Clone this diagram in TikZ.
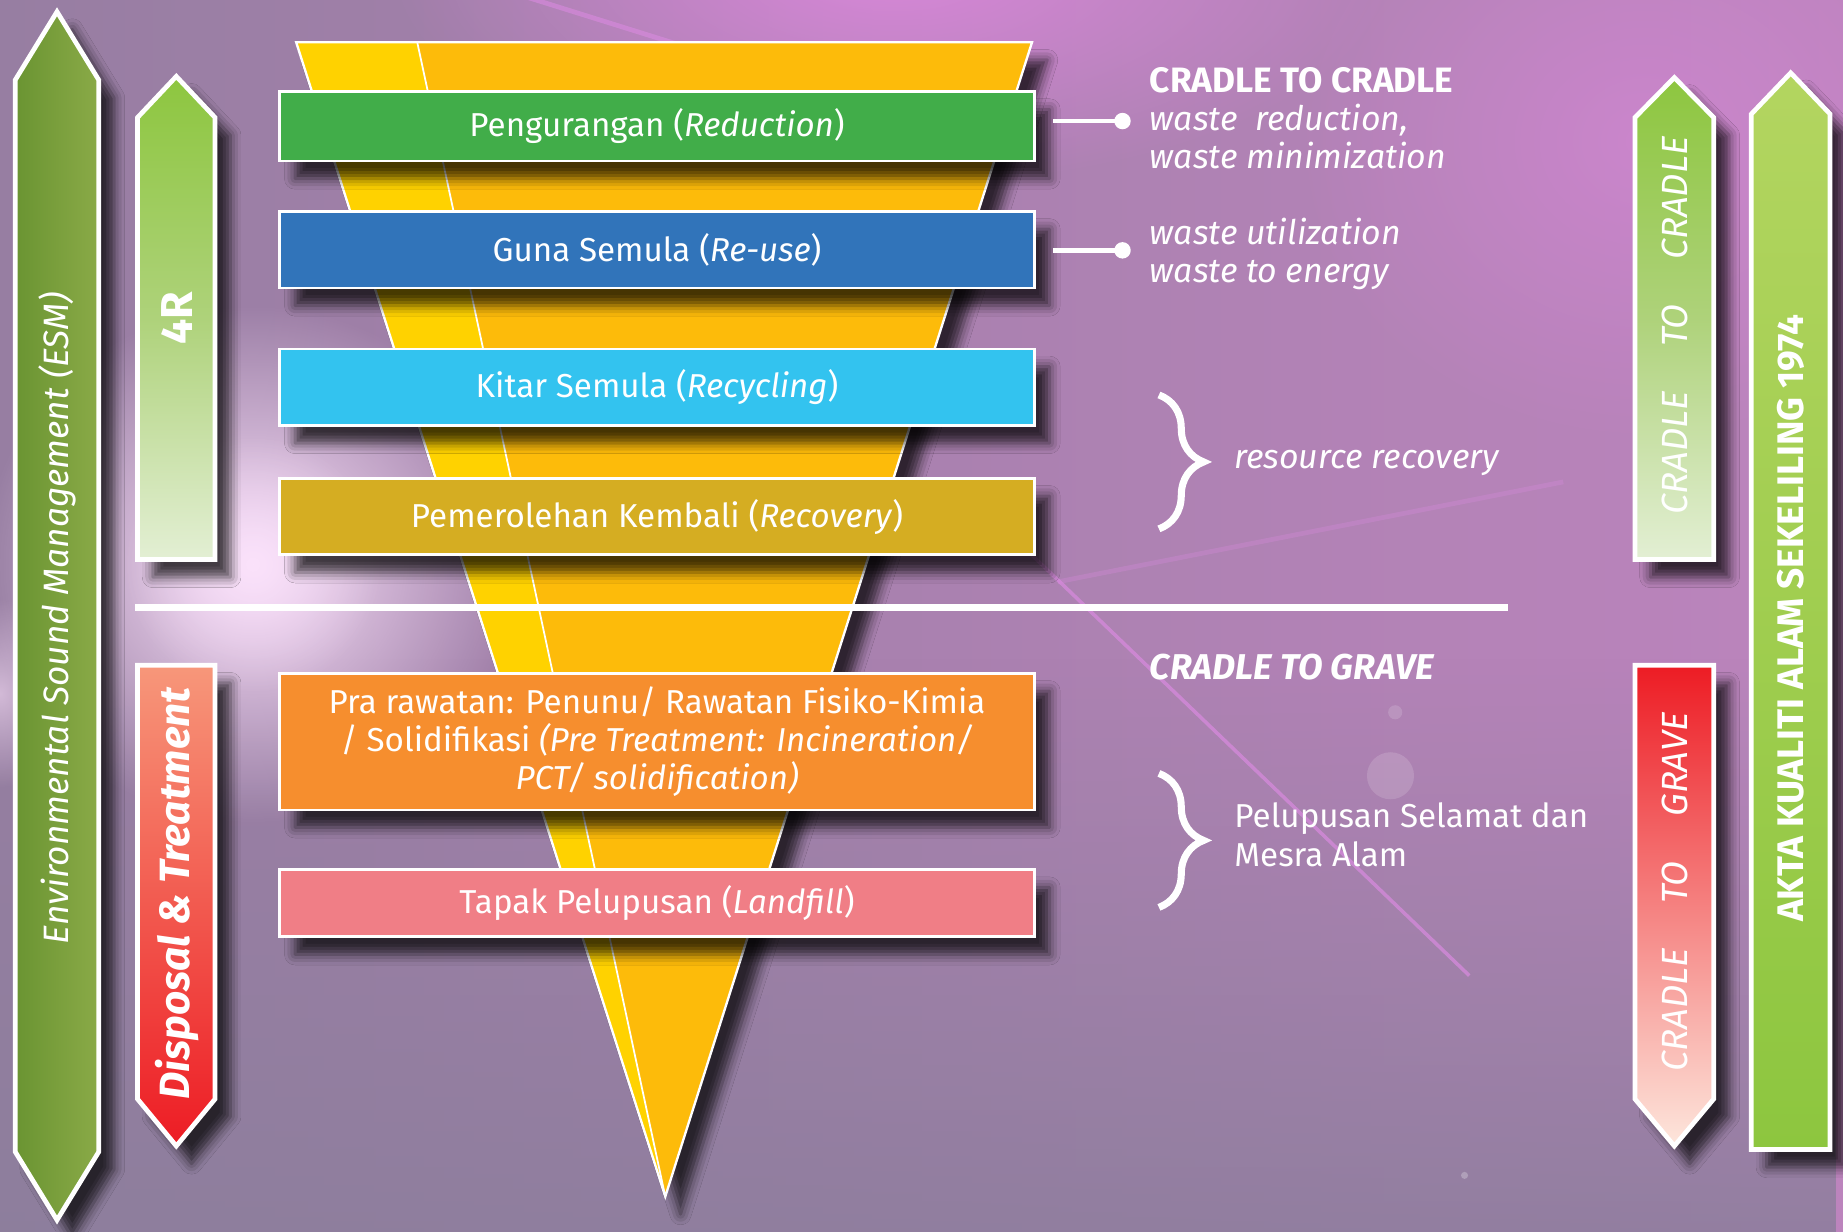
\documentclass[tikz,border=0pt]{standalone}
\usepackage{fontspec}
\setmainfont{Fira Sans}
\usetikzlibrary{shadows.blur,fadings,decorations.pathreplacing,calc}
\definecolor{cgreen}{HTML}{41AD49}
\definecolor{cblue}{HTML}{3174BA}
\definecolor{ccyan}{HTML}{33C3EF}
\definecolor{cgold}{HTML}{D5AD22}
\definecolor{corange}{HTML}{F68E2E}
\definecolor{cpink}{HTML}{F07E86}
\definecolor{yl}{HTML}{FFD200}
\definecolor{yr}{HTML}{FDBB0A}
\definecolor{bgl}{HTML}{977EA2}
\definecolor{bgr}{HTML}{BC84BD}
\definecolor{bgb}{HTML}{8C7E9C}
\definecolor{glowpink}{HTML}{FBE2FB}
\definecolor{glowmag}{HTML}{DE88DE}
\definecolor{lgreen}{HTML}{8DC63F}
\definecolor{pgreen}{HTML}{E3EFD4}
\definecolor{mgreen}{HTML}{AED27A}
\definecolor{akta}{HTML}{B3D560}
\definecolor{esml}{HTML}{6A9432}
\definecolor{esmr}{HTML}{8AAA47}
\definecolor{cred}{HTML}{ED1C24}
\definecolor{salmon}{HTML}{F7977A}
\definecolor{midred}{HTML}{F3856A}
\definecolor{palered}{HTML}{FDE6DC}
\definecolor{streak}{HTML}{D98ADF}
\tikzfading[name=radfade, inner color=transparent!0, outer color=transparent!100]
\tikzfading[name=fadeup, top color=transparent!100, bottom color=transparent!0]
\begin{document}
\begin{tikzpicture}[x=1pt,y=-1pt,
  shd/.style={blur shadow={shadow xshift=13pt, shadow yshift=-15pt, shadow blur radius=9pt, shadow opacity=72}},
  box/.style={draw=white, line width=2.2pt, minimum width=642pt, inner sep=0pt, text=white,
    font=\fontsize{28.2}{32}\selectfont, align=center, shd},
  arr/.style={draw=white, line width=4pt, line join=miter, shd},
  arrtext/.style={rotate=90, text=white, inner sep=0pt},
  side/.style={anchor=base west, text=white, inner sep=0pt, font=\itshape\fontsize{28.8}{32}\selectfont},
  plain/.style={anchor=base west, text=white, inner sep=0pt, font=\fontsize{28.2}{32}\selectfont},
  conn/.style={draw=white, line width=4pt},
  dot/.style={fill=white},
  brc/.style={draw=white, line width=6pt, decorate, decoration={brace, amplitude=38pt}},
]
% ---------- background ----------
\useasboundingbox (0,0) rectangle (1568,1048);
\shade[left color=bgl, right color=bgr] (0,0) rectangle (1568,1048);
\fill[bgb, opacity=.85, path fading=fadeup] (0,560) rectangle (1568,1048);
\fill[glowmag, opacity=.9, path fading=radfade] (760,-30) ellipse (430 and 190);
\fill[glowmag, opacity=.5, path fading=radfade] (1400,120) ellipse (300 and 260);
\fill[glowpink, path fading=radfade] (215,480) ellipse (230 and 220);
\fill[glowpink, opacity=.7, path fading=radfade] (215,480) ellipse (110 and 110);
\fill[glowpink, opacity=.6, path fading=radfade] (0,590) ellipse (60 and 80);
\draw[streak, line width=3pt, opacity=.7] (860,455) -- (1250,830);
\draw[streak, line width=4pt, opacity=.3] (900,495) -- (1330,410);
\draw[streak, line width=4pt, opacity=.6] (440,-5) -- (600,45);
\fill[white, opacity=.15] (1183,660) circle (20);
\fill[white, opacity=.15] (1187,606) circle (6);
\fill[white, opacity=.25] (1246,1000) circle (3);

% ---------- funnel ----------
\path[fill=yr, shd] (252,36) -- (878,36) -- (566,1018) -- cycle;
\fill[yl] (252,36) -- (355,36) -- (566,1018) -- cycle;
\draw[white, line width=1.5pt] (355,36) -- (566,1018);
\draw[white, line width=2pt, line join=miter] (252,36) -- (878,36) -- (566,1018) -- cycle;

% ---------- separator line ----------
\draw[white, line width=6pt] (115,517) -- (1283,517);

% ---------- boxes ----------
\node[box, fill=cgreen, minimum height=59pt] (red) at (559,107.5) {Pengurangan (\textit{Reduction})};
\node[box, fill=cblue, minimum height=65pt] (reuse) at (559,212.5) {Guna Semula (\textit{Re-use})};
\node[box, fill=ccyan, minimum height=65pt] (recyc) at (559,329.5) {Kitar Semula (\textit{Recycling})};
\node[box, fill=cgold, minimum height=65pt] (recov) at (559,439.5) {Pemerolehan Kembali (\textit{Recovery})};
\node[box, fill=corange, minimum height=116pt] (pre) at (559,631) {Pra rawatan: Penunu/ Rawatan Fisiko-Kimia\\/ Solidifikasi \textit{(Pre Treatment: Incineration/}\\\textit{PCT/ solidification)}};
\node[box, fill=cpink, minimum height=57pt] (land) at (559,768.5) {Tapak Pelupusan (\textit{Landfill})};

% ---------- connectors ----------
\coordinate (d1) at (955,103);
\coordinate (d2) at (955,213);
\draw[conn] ([xshift=15pt]red.east |- d1) -- (d1);
\fill[dot] (d1) circle (7);
\draw[conn] ([xshift=15pt]reuse.east |- d2) -- (d2);
\fill[dot] (d2) circle (7);

% ---------- right-hand texts ----------
\node[side, font=\bfseries\fontsize{30}{32}\selectfont] (c2ct) at (978,79) {CRADLE TO CRADLE};
\node[side] (wr) at (978,111) {waste\ \ reduction,};
\node[side] (wm) at (978,143) {waste minimization};
\node[side] (wu) at (978,208) {waste utilization};
\node[side] (we) at (978,240) {waste to energy};
\draw[brc] (986,336) -- (986,450);
\node[side] (rr) at (1050,399) {resource recovery};
\node[side, font=\bfseries\itshape\fontsize{30.5}{32}\selectfont] (c2gt) at (978,578) {CRADLE TO GRAVE};
\draw[brc] (986,658) -- (986,772);
\node[plain] (ps) at (1050,704) {Pelupusan Selamat dan};
\node[plain] (ma) at (1050,737) {Mesra Alam};

% ---------- left arrows ----------
\path[arr, left color=esml, right color=esmr] (13,68) -- (48.5,10) -- (84,68) -- (84,980) -- (48.5,1038) -- (13,980) -- cycle;
\node[arrtext, font=\itshape\fontsize{30}{36}\selectfont] (esm) at (49,526) {Environmental Sound Management (ESM)};

\path[arr, top color=lgreen, bottom color=pgreen, middle color=mgreen] (117,100) -- (150,65) -- (183,100) -- (183,476) -- (117,476) -- cycle;
\node[arrtext, font=\bfseries\fontsize{38}{44}\selectfont] (fourr) at (151,271) {4R};

\path[arr, top color=salmon, middle color=cred, bottom color=cred] (117,566) -- (183,566) -- (183,935) -- (150,975) -- (117,935) -- cycle;
\node[arrtext, font=\bfseries\itshape\fontsize{36}{40}\selectfont] (disp) at (151,760) {Disposal \& Treatment};

% ---------- right arrows ----------
\path[arr, top color=lgreen, bottom color=pgreen, middle color=mgreen] (1391,100) -- (1424.5,66) -- (1458,100) -- (1458,476) -- (1391,476) -- cycle;
\node[arrtext, font=\itshape\fontsize{31}{32}\selectfont] (c2c) at (1425,277) {CRADLE\hspace{38pt}TO\hspace{38pt}CRADLE};

\path[arr, top color=cred, middle color=midred, bottom color=palered] (1391,566) -- (1458,566) -- (1458,935) -- (1424.5,975) -- (1391,935) -- cycle;
\node[arrtext, font=\itshape\fontsize{31}{32}\selectfont] (c2g) at (1425,759) {CRADLE\hspace{38pt}TO\hspace{38pt}GRAVE};

\path[arr, top color=akta, middle color=lgreen, bottom color=lgreen] (1490,97) -- (1523.5,62) -- (1557,97) -- (1557,978) -- (1490,978) -- cycle;
\node[arrtext, font=\bfseries\fontsize{31.5}{32}\selectfont] (akta) at (1524,526) {AKTA KUALITI ALAM SEKELILING 1974};
\end{tikzpicture}
\end{document}
